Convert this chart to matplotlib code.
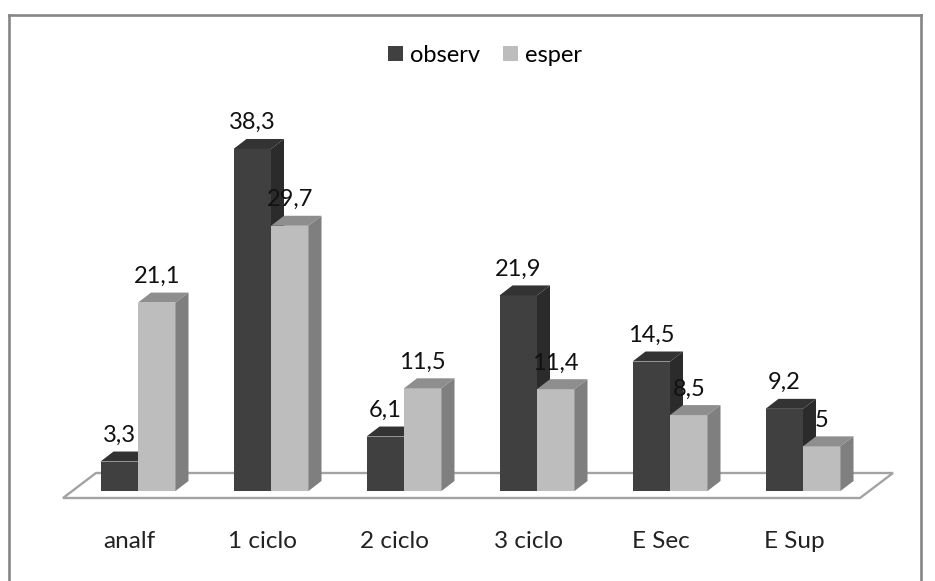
import matplotlib.pyplot as plt
from matplotlib.patches import Polygon
from matplotlib.lines import Line2D

categories = ['analf', '1 ciclo', '2 ciclo', '3 ciclo', 'E Sec', 'E Sup']
observ = [3.3, 38.3, 6.1, 21.9, 14.5, 9.2]
esper = [21.1, 29.7, 11.5, 11.4, 8.5, 5]

W, H = 935, 581
BASE_Y = 491        # pixel row of value 0
PX_PER_UNIT = 8.93
PX_PER_CAT = 133
CAT0_X = 129        # pixel column of first category label

plt.rcParams['font.family'] = ['Lato', 'DejaVu Sans']

fig = plt.figure(figsize=(W / 100, H / 100), dpi=100)
ax = fig.add_axes([0, (H - BASE_Y) / H, 1, BASE_Y / H])
ax.set_xlim(-CAT0_X / PX_PER_CAT, (W - CAT0_X) / PX_PER_CAT)
ax.set_ylim(0, BASE_Y / PX_PER_UNIT)

# sizes in data units
bar_w = 37.5 / PX_PER_CAT
shift = 9 / PX_PER_CAT
dx = 13 / PX_PER_CAT
dy = 10 / PX_PER_UNIT


def px(x, y):
    return (x - CAT0_X) / PX_PER_CAT, (BASE_Y - y) / PX_PER_UNIT


# outer frame, open at the bottom
for xs, ys in [((9, 9), (581, 15)), ((9, 921), (15, 15)), ((921, 921), (15, 581))]:
    fig.add_artist(Line2D([x / W for x in xs], [1 - y / H for y in ys],
                          color='#868686', lw=1.9))

# floor
floor = [px(63, 498), px(860, 498), px(893, 473), px(96, 473)]
ax.add_patch(Polygon(floor, closed=True, facecolor='white', edgecolor='#a3a3a3',
                     lw=1.7, clip_on=False, zorder=1))


def draw_bars(x, h, face, top, side, z):
    ax.bar(x, h, width=bar_w, color=face, zorder=z)
    l, r = x - bar_w / 2, x + bar_w / 2
    ax.add_patch(Polygon([(l, h), (r, h), (r + dx, h + dy), (l + dx, h + dy)],
                         closed=True, facecolor=top, edgecolor='none', zorder=z))
    ax.add_patch(Polygon([(r, 0), (r + dx, dy), (r + dx, h + dy), (r, h)],
                         closed=True, facecolor=side, edgecolor='none', zorder=z))


for i in range(len(categories)):
    x0 = i + shift
    draw_bars(x0 - bar_w / 2, observ[i], '#404040', '#333333', '#2b2b2b', 2 + i * 0.1)
    draw_bars(x0 + bar_w / 2, esper[i], '#bdbdbd', '#8e8e8e', '#7f7f7f', 2.05 + i * 0.1)

    ax.annotate(str(observ[i]).replace('.', ','), (x0 - bar_w / 2, observ[i] + dy),
                xytext=(0, 7), textcoords='offset points', ha='center', va='baseline',
                fontsize=17, color='#111111', zorder=5)
    ax.annotate(str(esper[i]).replace('.', ','), (x0 + bar_w / 2, esper[i] + dy),
                xytext=(0, 7), textcoords='offset points', ha='center', va='baseline',
                fontsize=17, color='#111111', zorder=5)

ax.set_xticks(range(len(categories)))
ax.set_xticklabels(categories, fontsize=17.5, color='#222222')
ax.tick_params(axis='x', length=0, pad=29)
ax.set_yticks([])
for s in ax.spines.values():
    s.set_visible(False)
ax.patch.set_alpha(0)

handles = [Polygon([(0, 0)], facecolor='#404040', label='observ'),
           Polygon([(0, 0)], facecolor='#bdbdbd', label='esper')]
fig.legend(handles=handles, loc='center', bbox_to_anchor=(485 / W, 1 - 55 / H), ncols=2,
           frameon=False, fontsize=17, handlelength=0.6, handleheight=0.6,
           handletextpad=0.3, columnspacing=1.0)

fig.savefig('out.png', dpi=100)
